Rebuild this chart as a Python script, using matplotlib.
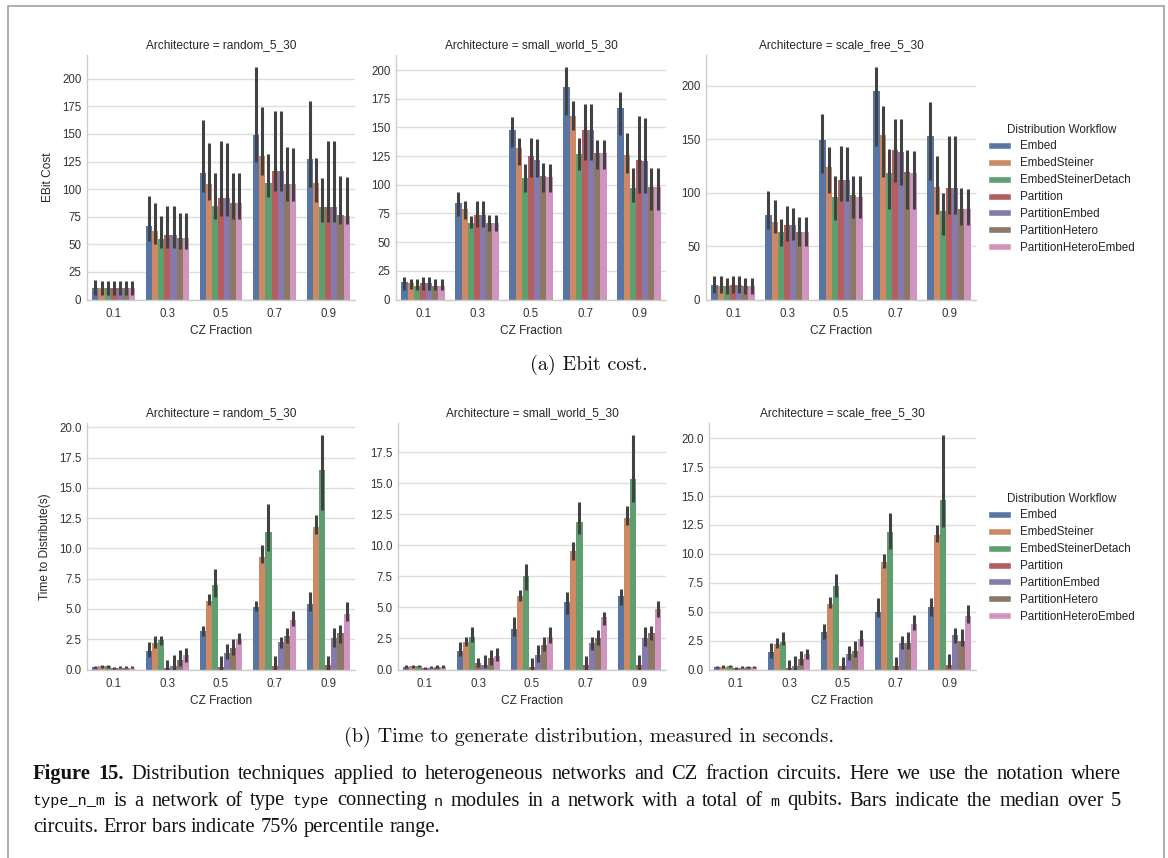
import matplotlib
matplotlib.use("Agg")
import matplotlib.pyplot as plt
import numpy as np
import seaborn as sns
from matplotlib.patches import Patch
from matplotlib.lines import Line2D
from matplotlib.ticker import MultipleLocator

fractions = ["0.1", "0.3", "0.5", "0.7", "0.9"]
workflows = ["Embed", "EmbedSteiner", "EmbedSteinerDetach", "Partition",
             "PartitionEmbed", "PartitionHetero", "PartitionHeteroEmbed"]
architectures = ["random_5_30", "small_world_5_30", "scale_free_5_30"]

# rows = CZ fraction, columns = workflow (median, lower / upper error)
ebit_random_med = [[10, 10, 10, 10, 10, 10, 10],
                   [67, 62, 55, 58, 58, 56, 56],
                   [115, 105, 85, 92, 92, 87, 87],
                   [149, 130, 106, 116, 116, 105, 105],
                   [127, 106, 84, 84, 84, 77, 76]]
ebit_random_lo = [[4, 4, 4, 4, 4, 4, 4],
                  [53, 50, 47, 47, 47, 46, 46],
                  [97, 90, 73, 76, 76, 73, 73],
                  [125, 113, 93, 98, 98, 89, 89],
                  [102, 88, 70, 70, 70, 68, 68]]
ebit_random_hi = [[18, 17, 17, 17, 17, 17, 17],
                  [94, 87, 76, 85, 85, 78, 78],
                  [163, 142, 115, 144, 142, 115, 115],
                  [211, 174, 132, 171, 171, 138, 137],
                  [180, 128, 110, 144, 144, 112, 111]]

ebit_small_med = [[15, 14, 12, 14, 14, 12, 12],
                  [84, 79, 67, 74, 74, 67, 67],
                  [148, 132, 106, 125, 122, 108, 107],
                  [185, 160, 127, 148, 148, 128, 128],
                  [167, 126, 97, 122, 121, 98, 98]]
ebit_small_lo = [[8, 9, 8, 8, 8, 8, 8],
                 [73, 70, 62, 63, 63, 60, 60],
                 [133, 117, 94, 107, 107, 94, 94],
                 [161, 148, 113, 122, 122, 114, 114],
                 [143, 110, 85, 93, 93, 78, 78]]
ebit_small_hi = [[20, 18, 18, 20, 20, 18, 18],
                 [94, 86, 73, 86, 86, 74, 74],
                 [159, 141, 118, 141, 140, 119, 118],
                 [203, 173, 141, 170, 170, 139, 139],
                 [181, 145, 115, 160, 158, 115, 115]]

ebit_scale_med = [[14, 13, 13, 14, 14, 13, 13],
                  [79, 73, 63, 70, 70, 63, 63],
                  [149, 124, 96, 112, 112, 98, 96],
                  [195, 154, 118, 140, 138, 119, 118],
                  [153, 105, 83, 104, 104, 85, 85]]
ebit_scale_lo = [[6, 6, 5, 6, 6, 5, 5],
                 [66, 62, 50, 55, 56, 50, 50],
                 [118, 100, 74, 92, 92, 76, 76],
                 [144, 115, 85, 110, 107, 85, 85],
                 [112, 80, 60, 80, 80, 70, 70]]
ebit_scale_hi = [[22, 22, 20, 22, 22, 20, 20],
                 [102, 93, 75, 88, 86, 77, 77],
                 [174, 143, 116, 144, 143, 116, 116],
                 [218, 181, 141, 169, 169, 140, 139],
                 [185, 134, 100, 153, 153, 104, 103]]

time_random_med = [[0.2, 0.25, 0.25, 0.1, 0.15, 0.15, 0.15],
                   [1.5, 2.2, 2.4, 0.1, 0.3, 0.8, 1.2],
                   [3.2, 5.7, 7.0, 0.2, 1.4, 1.8, 2.5],
                   [5.2, 9.3, 11.4, 0.3, 2.3, 2.8, 4.1],
                   [5.4, 11.8, 16.5, 0.4, 2.6, 3.0, 4.6]]
time_random_lo = [[0.1, 0.15, 0.15, 0.05, 0.1, 0.1, 0.1],
                  [1.0, 1.8, 2.0, 0.0, 0.0, 0.3, 0.6],
                  [2.8, 5.3, 6.0, 0.0, 0.9, 1.2, 2.1],
                  [4.8, 8.8, 9.8, 0.0, 1.8, 2.2, 3.6],
                  [4.8, 11.2, 13.2, 0.0, 1.9, 2.2, 4.0]]
time_random_hi = [[0.3, 0.35, 0.35, 0.2, 0.3, 0.3, 0.3],
                  [2.3, 2.8, 2.8, 0.8, 1.2, 1.6, 1.8],
                  [3.6, 6.2, 8.3, 1.1, 2.1, 2.5, 3.0],
                  [5.7, 10.3, 13.7, 1.1, 2.7, 3.4, 4.8],
                  [6.4, 12.8, 19.4, 1.1, 3.4, 3.7, 5.6]]

time_small_med = [[0.2, 0.25, 0.3, 0.1, 0.15, 0.2, 0.2],
                  [1.5, 2.2, 2.6, 0.5, 0.4, 0.9, 1.1],
                  [3.3, 5.9, 7.5, 0.2, 1.2, 2.0, 2.6],
                  [5.4, 9.5, 11.9, 0.4, 2.1, 2.5, 4.2],
                  [5.9, 12.2, 15.3, 0.4, 2.5, 2.9, 4.9]]
time_small_lo = [[0.1, 0.15, 0.2, 0.05, 0.1, 0.1, 0.1],
                 [1.1, 1.9, 2.2, 0.2, 0.1, 0.4, 0.7],
                 [2.7, 5.5, 6.4, 0.0, 0.6, 1.5, 2.1],
                 [4.5, 8.8, 10.9, 0.0, 1.6, 2.0, 3.6],
                 [5.2, 11.6, 13.5, 0.0, 1.9, 2.4, 4.2]]
time_small_hi = [[0.35, 0.35, 0.4, 0.2, 0.3, 0.35, 0.35],
                 [2.2, 2.6, 3.4, 0.9, 1.2, 1.6, 1.7],
                 [4.2, 6.4, 8.5, 0.9, 2.0, 2.6, 3.4],
                 [6.2, 10.3, 13.5, 1.1, 2.6, 3.2, 4.6],
                 [6.5, 13.2, 18.9, 1.2, 3.4, 3.5, 5.5]]

time_scale_med = [[0.2, 0.25, 0.3, 0.1, 0.15, 0.2, 0.2],
                  [1.5, 2.2, 2.4, 0.1, 0.3, 0.9, 1.3],
                  [3.2, 5.7, 7.2, 0.3, 1.3, 1.6, 2.6],
                  [5.0, 9.3, 11.9, 0.3, 2.3, 2.3, 3.9],
                  [5.4, 11.6, 14.7, 0.4, 3.0, 2.5, 4.6]]
time_scale_lo = [[0.1, 0.15, 0.2, 0.05, 0.1, 0.1, 0.1],
                 [1.0, 1.9, 2.1, 0.0, 0.0, 0.4, 0.9],
                 [2.6, 5.3, 6.3, 0.0, 0.8, 1.1, 2.0],
                 [4.5, 8.8, 10.4, 0.0, 1.8, 1.8, 3.4],
                 [4.6, 11.0, 12.3, 0.1, 2.3, 2.0, 4.0]]
time_scale_hi = [[0.3, 0.35, 0.4, 0.2, 0.3, 0.3, 0.3],
                 [2.3, 2.7, 3.2, 0.8, 1.2, 1.6, 1.8],
                 [3.9, 6.3, 8.3, 1.1, 2.0, 2.5, 3.4],
                 [6.2, 10.0, 13.5, 1.1, 2.9, 3.2, 4.7],
                 [6.2, 12.5, 20.3, 1.3, 3.6, 3.5, 5.6]]

caption_lines = [
    "*Figure *15. Distribution techniques applied to heterogeneous networks and CZ fraction circuits. Here we use the notation where",
    "`type_n_m is a network of type `type connecting `n modules in a network with a total of `m qubits. Bars indicate the median over 5",
    "circuits. Error bars indicate 75% percentile range.",
]

sns.set_theme(style="whitegrid")
plt.rcParams["font.family"] = ["Liberation Sans", "DejaVu Sans"]

W, H = 1168, 858
fig = plt.figure(figsize=(W / 100, H / 100), dpi=100)
colors = [sns.desaturate(c, 0.75) for c in sns.color_palette("deep", 7)]


def add_ax(x0, y0, x1, y1):
    return fig.add_axes([x0 / W, 1 - y1 / H, (x1 - x0) / W, (y1 - y0) / H])


def draw_panel(ax, med, lo, hi, arch, ylabel, step):
    n = len(workflows)
    w = 0.8 / n
    x = np.arange(len(fractions))
    for j in range(n):
        xs = x - 0.4 + w * (j + 0.5)
        ax.bar(xs, [r[j] for r in med], width=w, color=colors[j], linewidth=0, zorder=2)
        ax.vlines(xs, [r[j] for r in lo], [r[j] for r in hi], color=".26", lw=2.2, zorder=3)
    ax.set_xlim(-0.5, len(fractions) - 0.5)
    ax.set_xticks(x, fractions)
    ax.yaxis.set_major_locator(MultipleLocator(step))
    ax.set_ylim(0, max(max(r) for r in hi) * 1.05)
    ax.grid(axis="x", visible=False)
    ax.grid(axis="y", color="#dddddd", lw=1.0)
    ax.set_axisbelow(True)
    ax.tick_params(axis="x", labelsize=8.3, length=0, pad=6, colors=".2")
    ax.tick_params(axis="y", labelsize=8.3, length=0, pad=4, colors=".2")
    ax.set_title(f"Architecture = {arch}", fontsize=8.6, color=".15", pad=5)
    ax.set_xlabel("CZ Fraction", fontsize=8.6, color=".15", labelpad=4)
    if ylabel:
        ax.set_ylabel(ylabel, fontsize=8.6, color=".15", labelpad=6)
    for s in ["top", "right"]:
        ax.spines[s].set_visible(False)
    for s in ["left", "bottom"]:
        ax.spines[s].set_color("#cccccc")
        ax.spines[s].set_linewidth(1.0)


top = [(87, 55, 355, 299.5), (396, 55, 666, 299.5), (706, 55, 976, 299.5)]
bottom = [(87, 423, 355, 669.5), (398, 423, 666, 669.5), (709, 423, 976, 669.5)]
ebit = [(ebit_random_med, ebit_random_lo, ebit_random_hi, 25),
        (ebit_small_med, ebit_small_lo, ebit_small_hi, 25),
        (ebit_scale_med, ebit_scale_lo, ebit_scale_hi, 50)]
times = [(time_random_med, time_random_lo, time_random_hi, 2.5),
         (time_small_med, time_small_lo, time_small_hi, 2.5),
         (time_scale_med, time_scale_lo, time_scale_hi, 2.5)]

for i in range(3):
    ax = add_ax(*top[i])
    draw_panel(ax, ebit[i][0], ebit[i][1], ebit[i][2], architectures[i],
               "EBit Cost" if i == 0 else None, ebit[i][3])
    ax = add_ax(*bottom[i])
    draw_panel(ax, times[i][0], times[i][1], times[i][2], architectures[i],
               "Time to Distribute(s)" if i == 0 else None, times[i][3])

handles = [Patch(facecolor=colors[j], label=wf) for j, wf in enumerate(workflows)]
for ytop in [116, 485]:
    leg = fig.legend(handles=handles, loc="upper left", bbox_to_anchor=(980 / W, 1 - ytop / H),
                     frameon=False, title="Distribution Workflow", fontsize=8.4,
                     title_fontsize=8.4, handlelength=2.0, handleheight=0.55,
                     labelspacing=0.42, handletextpad=0.8, borderpad=0.15)
    for t in leg.get_texts():
        t.set_color(".15")
    leg.get_title().set_color(".15")

fig.text(589 / W, 1 - 365 / H, "(a) Ebit cost.", family="cmr10", fontsize=14.5,
         ha="center", va="center", color="#111111")
fig.text(589 / W, 1 - 737 / H, "(b) Time to generate distribution, measured in seconds.",
         family="cmr10", fontsize=14.5, ha="center", va="center", color="#111111")

# caption, justified word by word
renderer = fig.canvas.get_renderer()
cap_size = 14.8
x_left, x_right = 33, 1121
baselines = [779, 805.5, 832]
for i, line in enumerate(caption_lines):
    items = []
    for word in line.split(" "):
        props = dict(family="Liberation Serif", fontsize=cap_size)
        if word.startswith("*"):
            word = word[1:]
            props["weight"] = "bold"
        elif word.startswith("`"):
            word = word[1:]
            props = dict(family="Liberation Mono", fontsize=10.9)
        t = fig.text(0, 0, word, va="baseline", color="#111111", **props)
        items.append((t, t.get_window_extent(renderer).width))
    total = sum(w for _, w in items)
    if i < len(caption_lines) - 1:
        gap = (x_right - x_left - total) / (len(items) - 1)
    else:
        gap = cap_size * 1.39 * 0.25
    x = x_left
    for t, w in items:
        t.set_position((x / W, 1 - baselines[i] / H))
        x += w + gap

frame = dict(transform=fig.transFigure, color="#a8a8a8", lw=1.3)
fig.add_artist(Line2D([8 / W, 8 / W], [0, 1 - 6 / H], **frame))
fig.add_artist(Line2D([8 / W, 1164 / W], [1 - 6 / H, 1 - 6 / H], **frame))
fig.add_artist(Line2D([1164 / W, 1164 / W], [0, 1 - 6 / H], **frame))

fig.savefig("out.png", dpi=100, facecolor="white")
